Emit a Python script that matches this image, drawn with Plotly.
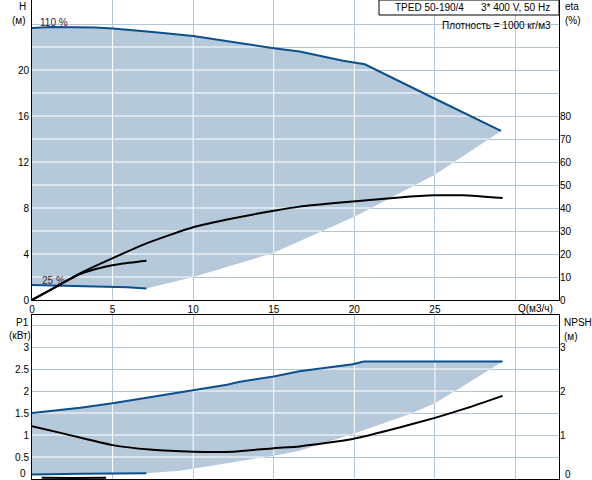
import numpy as np
import plotly.graph_objects as go

# ---------------- data ----------------
# head, max speed (110 %)
q_hmax = [0, 1.2, 3.9, 5, 7.5, 10, 15, 16.6, 19.3, 20.65, 25, 29.1]
h_max = [23.65, 23.75, 23.7, 23.6, 23.3, 22.95, 21.9, 21.6, 20.8, 20.5, 17.5, 14.7]
# head, min speed (25 %)
q_hmin = [0, 2.8, 4.6, 5.9, 7.1]
h_min = [1.30, 1.22, 1.16, 1.10, 1.00]
# lower edge of the operating area
q_hsys = [7.1, 10, 15, 20, 25, 29.1]
h_sys = [1.0, 2.0, 4.1, 7.25, 10.9, 14.7]

# efficiency (%)
q_eta = [0, 1.43, 2.98, 5.46, 7.1, 10, 12.5, 15, 16.6, 19.9, 22.8, 25, 26.75, 29.2]
eta = [0, 5.5, 11.6, 19.6, 24.6, 31.6, 35.5, 38.8, 40.6, 42.8, 44.6, 45.5, 45.5, 44.3]
q_eta25 = [0, 1.43, 2.98, 4.6, 5.46, 7.1]
eta25 = [0, 5.5, 11.3, 14.6, 15.7, 17.1]

# power P1 (kW)
q_p1max = [0, 3, 5, 7.3, 10, 12.1, 12.9, 15, 16.6, 19.9, 20.6, 29.2]
p1_max = [1.5, 1.62, 1.72, 1.86, 2.02, 2.14, 2.21, 2.33, 2.45, 2.61, 2.67, 2.67]
q_p1min = [0, 3, 7.1]
p1_min = [0.10, 0.12, 0.13]
q_p1sys = [7.1, 9.2, 15, 16.6, 19.9, 23.45, 25, 26.96, 29.2]
p1_sys = [0.13, 0.19, 0.53, 0.64, 1.02, 1.48, 1.72, 2.16, 2.67]

# NPSH (m)
q_npsh = [0, 2.1, 5, 7.3, 10, 12.5, 15, 16.6, 19.9, 22.8, 25, 26.96, 29.2]
npsh = [1.20, 1.02, 0.77, 0.67, 0.62, 0.62, 0.70, 0.74, 0.91, 1.17, 1.39, 1.61, 1.89]
q_npsh25 = [0.6, 2.5, 4.6]
npsh25 = [0.03, 0.025, 0.03]

x_ticks = [0, 5, 10, 15, 20, 25, 30]
h_ticks = list(range(0, 26, 2))
h_labels = [0, 4, 8, 12, 16, 20]
eta_ticks = list(range(0, 90, 10))
p1_ticks = [0, 0.5, 1, 1.5, 2, 2.5, 3, 3.5]
npsh_ticks = [0, 1, 2, 3]

BLUE = "#0b4f8c"
FILL = "#b6c9da"
GRID = "#b3c5d8"
FONT = "Liberation Sans, Arial, sans-serif"

W, HGT = 592, 480
ML, MR, MT, MB = 32, 33, 0, 1
PW, PH = W - ML - MR, HGT - MT - MB


def px(x):
    return (x - ML) / PW


def py(y):
    return (HGT - MB - y) / PH


def area(q_up, v_up, q_lo, v_lo):
    xs = list(q_up) + list(q_lo)[::-1]
    ys = list(v_up) + list(v_lo)[::-1]
    return xs, ys


def inner_grid(q_up, v_up, q_lo, v_lo, xgrid, ygrid):
    # white grid lines where they cross the shaded area
    qq = np.linspace(0, q_up[-1], 3000)
    lo = np.interp(qq, q_lo, v_lo)
    up = np.interp(qq, q_up, v_up)
    sx, sy = [], []
    for g in xgrid:
        if 0 < g <= q_up[-1]:
            sx += [g, g, None]
            sy += [np.interp(g, q_lo, v_lo), np.interp(g, q_up, v_up), None]
    for g in ygrid:
        inside = (lo <= g) & (up >= g)
        if g > 0 and inside.any():
            sx += [qq[inside].min(), qq[inside].max(), None]
            sy += [g, g, None]
    return sx, sy


fig = go.Figure()

# ---- top: H / eta ----
q_lo_h = q_hmin + q_hsys[1:]
v_lo_h = h_min + h_sys[1:]
ax, ay = area(q_hmax, h_max, q_lo_h, v_lo_h)
fig.add_trace(go.Scatter(x=ax, y=ay, fill="toself", fillcolor=FILL, mode="none",
                         xaxis="x", yaxis="y", hoverinfo="skip"))
gx, gy = inner_grid(q_hmax, h_max, q_lo_h, v_lo_h, x_ticks, h_ticks)
fig.add_trace(go.Scatter(x=gx, y=gy, mode="lines", line=dict(color="white", width=1),
                         xaxis="x", yaxis="y", hoverinfo="skip"))
for q, v in [(q_hmax, h_max), (q_hmin, h_min)]:
    fig.add_trace(go.Scatter(x=q, y=v, mode="lines", line=dict(color=BLUE, width=2),
                             xaxis="x", yaxis="y", hoverinfo="skip"))
for q, v in [(q_eta, eta), (q_eta25, eta25)]:
    fig.add_trace(go.Scatter(x=q, y=v, mode="lines", line=dict(color="black", width=2, shape="spline", smoothing=0.6),
                             xaxis="x", yaxis="y3", hoverinfo="skip"))

# ---- bottom: P1 / NPSH ----
q_lo_p = q_p1min + q_p1sys[1:]
v_lo_p = p1_min + p1_sys[1:]
ax, ay = area(q_p1max, p1_max, q_lo_p, v_lo_p)
fig.add_trace(go.Scatter(x=ax, y=ay, fill="toself", fillcolor=FILL, mode="none",
                         xaxis="x2", yaxis="y2", hoverinfo="skip"))
gx, gy = inner_grid(q_p1max, p1_max, q_lo_p, v_lo_p, x_ticks, p1_ticks)
fig.add_trace(go.Scatter(x=gx, y=gy, mode="lines", line=dict(color="white", width=1),
                         xaxis="x2", yaxis="y2", hoverinfo="skip"))
for q, v in [(q_p1max, p1_max), (q_p1min, p1_min)]:
    fig.add_trace(go.Scatter(x=q, y=v, mode="lines", line=dict(color=BLUE, width=2),
                             xaxis="x2", yaxis="y2", hoverinfo="skip"))
for q, v in [(q_npsh, npsh), (q_npsh25, npsh25)]:
    fig.add_trace(go.Scatter(x=q, y=v, mode="lines", line=dict(color="black", width=2, shape="spline", smoothing=0.6),
                             xaxis="x2", yaxis="y4", hoverinfo="skip"))

top_dom = [py(300), 1]
bot_dom = [0, py(315)]
h_top = 300 / 11.5
p_top = (HGT - MB - 315) / 44

tick_font = dict(size=10, color="black", family=FONT)
axis_common = dict(showline=True, linecolor="black", linewidth=1, mirror=True, ticks="",
                   zeroline=False, gridcolor=GRID, gridwidth=1, fixedrange=True,
                   automargin=False, tickfont=tick_font)
right_common = dict(side="right", showgrid=False, zeroline=False, ticks="", fixedrange=True,
                    automargin=False, showline=False, tickfont=tick_font)

fig.update_layout(
    width=W, height=HGT,
    margin=dict(l=ML, r=MR, t=MT, b=MB, autoexpand=False),
    paper_bgcolor="white", plot_bgcolor="white",
    showlegend=False,
    font=dict(family=FONT, size=10, color="black"),
    xaxis=dict(axis_common, range=[0, 32.7], anchor="y", tickvals=x_ticks,
               ticktext=[str(v) if v < 30 else "" for v in x_ticks], domain=[0, 1]),
    yaxis=dict(axis_common, range=[0, h_top], domain=top_dom, anchor="x", tickvals=h_ticks,
               ticktext=[str(v) if v in h_labels else "" for v in h_ticks]),
    yaxis3=dict(right_common, range=[0, h_top * 5], overlaying="y", anchor="x", tickvals=eta_ticks),
    xaxis2=dict(axis_common, range=[0, 32.7], anchor="y2", tickvals=x_ticks, showticklabels=False,
                domain=[0, 1]),
    yaxis2=dict(axis_common, range=[0, p_top], domain=bot_dom, anchor="x2", tickvals=p1_ticks,
                ticktext=["" if v in (0, 3.5) else ("%g" % v) for v in p1_ticks]),
    yaxis4=dict(right_common, range=[0, p_top], overlaying="y2", anchor="x2", tickvals=npsh_ticks,
                ticktext=["" if v == 0 else str(v) for v in npsh_ticks]),
)

# frame of the legend box
fig.add_shape(type="rect", xref="paper", yref="paper", x0=px(379), x1=px(559), y0=py(15), y1=py(0),
              line=dict(color="black", width=1), fillcolor="white", layer="above")


def note(text, x, y, anchor="left", color="black"):
    fig.add_annotation(text=text, xref="paper", yref="paper", x=px(x), y=py(y), showarrow=False,
                       xanchor=anchor, yanchor="middle", font=dict(size=10, color=color, family=FONT))


note("TPED 50-190/4", 393, 8)
note("3* 400 V, 50 Hz", 552, 8, "right")
note("Плотность = 1000 кг/м3", 553, 25, "right")
note("H", 28, 7, "right")
note("(м)", 28, 20, "right")
note("eta", 563, 7)
note("(%)", 563, 20)
note("P1", 31, 322, "right")
note("(кВт)", 33, 335, "right")
note("NPSH", 562, 322)
note("(м)", 562, 336)
note("0", 28, 473, "right")
note("0", 563, 474)
note("Q(м3/ч)", 555, 308, "right")
note("110 %", 38, 23, color="#4a1030")
note("25 %", 40, 280, color="#3a2a30")

# page body has a default 8px margin; drop it so the chart fills the window
fig.write_html("out.html", config={"displayModeBar": False},
               post_script="document.body.style.margin='0';")
